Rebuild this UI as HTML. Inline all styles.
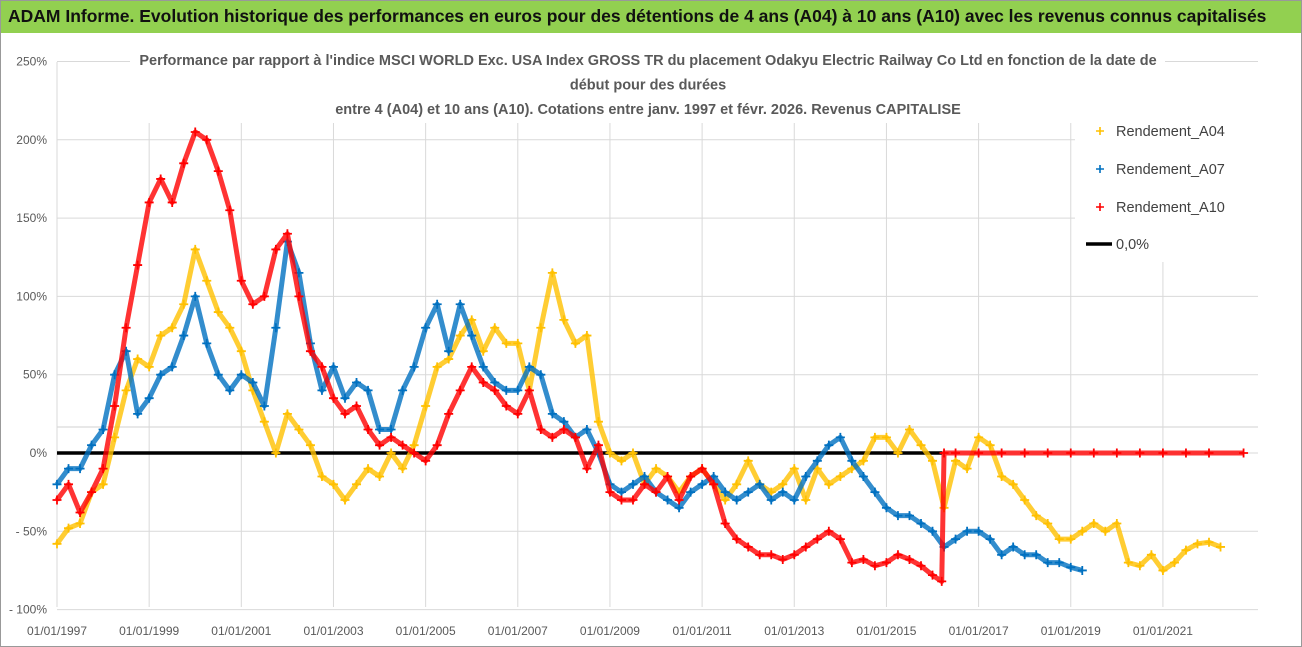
<!DOCTYPE html>
<html><head><meta charset="utf-8"><style>
body{margin:0;width:1302px;height:647px;background:#fff;overflow:hidden;font-family:"Liberation Sans",sans-serif}
#hdr{position:absolute;left:0;top:0;width:1302px;height:33px;background:#92d050;font-weight:bold;font-size:17.5px;line-height:33px;padding-left:8px;box-sizing:border-box;color:#111;white-space:nowrap}
svg{position:absolute;left:0;top:0}
</style></head><body>
<div id="hdr">ADAM Informe. Evolution historique des performances en euros pour des détentions de 4 ans (A04) à 10 ans (A10) avec les revenus connus capitalisés</div>
<svg id="chart" width="1302" height="647"></svg>
<script>
const yTicks=[250,200,150,100,50,0,-50,-100];
const yTickLabels=["250%","200%","150%","100%","50%","0%","- 50%","- 100%"];
const xTickYears=[1997,1999,2001,2003,2005,2007,2009,2011,2013,2015,2017,2019,2021];
const xTickLabels=["01/01/1997","01/01/1999","01/01/2001","01/01/2003","01/01/2005","01/01/2007","01/01/2009","01/01/2011","01/01/2013","01/01/2015","01/01/2017","01/01/2019","01/01/2021"];
const a04Dates=[1997,1997.25,1997.5,1997.75,1998,1998.25,1998.5,1998.75,1999,1999.25,1999.5,1999.75,2000,2000.25,2000.5,2000.75,2001,2001.25,2001.5,2001.75,2002,2002.25,2002.5,2002.75,2003,2003.25,2003.5,2003.75,2004,2004.25,2004.5,2004.75,2005,2005.25,2005.5,2005.75,2006,2006.25,2006.5,2006.75,2007,2007.25,2007.5,2007.75,2008,2008.25,2008.5,2008.75,2009,2009.25,2009.5,2009.75,2010,2010.25,2010.5,2010.75,2011,2011.25,2011.5,2011.75,2012,2012.25,2012.5,2012.75,2013,2013.25,2013.5,2013.75,2014,2014.25,2014.5,2014.75,2015,2015.25,2015.5,2015.75,2016,2016.25,2016.5,2016.75,2017,2017.25,2017.5,2017.75,2018,2018.25,2018.5,2018.75,2019,2019.25,2019.5,2019.75,2020,2020.25,2020.5,2020.75,2021,2021.25,2021.5,2021.75,2022,2022.25];
const a04Values=[-58,-48,-45,-25,-20,10,40,60,55,75,80,95,130,110,90,80,65,40,20,0,25,15,5,-15,-20,-30,-20,-10,-15,0,-10,5,30,55,60,75,85,65,80,70,70,40,80,115,85,70,75,20,0,-5,0,-20,-10,-15,-25,-15,-10,-20,-30,-20,-5,-20,-25,-20,-10,-30,-10,-20,-15,-10,-5,10,10,0,15,5,-5,-35,-5,-10,10,5,-15,-20,-30,-40,-45,-55,-55,-50,-45,-50,-45,-70,-72,-65,-75,-70,-62,-58,-57,-60];
const a07Dates=a04Dates.slice(0,90);
const a07Values=[-20,-10,-10,5,15,50,65,25,35,50,55,75,100,70,50,40,50,45,30,80,135,115,70,40,55,35,45,40,15,15,40,55,80,95,65,95,75,55,45,40,40,55,50,25,20,10,15,0,-20,-25,-20,-15,-25,-30,-35,-25,-20,-15,-25,-30,-25,-20,-30,-25,-30,-15,-5,5,10,-5,-15,-25,-35,-40,-40,-45,-50,-60,-55,-50,-50,-55,-65,-60,-65,-65,-70,-70,-73,-75];
const a10Dates=a04Dates.slice(0,77).concat([2016.2,2016.25,2016.5,2017,2017.5,2018,2018.5,2019,2019.5,2020,2020.5,2021,2021.5,2022,2022.75]);
const a10Values=[-30,-20,-38,-25,-10,30,80,120,160,175,160,185,205,200,180,155,110,95,100,130,140,100,65,55,35,25,30,15,5,10,5,0,-5,5,25,40,55,45,40,30,25,40,15,10,15,10,-10,5,-25,-30,-30,-20,-25,-15,-30,-15,-10,-20,-45,-55,-60,-65,-65,-68,-65,-60,-55,-50,-55,-70,-68,-72,-70,-65,-68,-72,-78,-82,0,0,0,0,0,0,0,0,0,0,0,0,0,0];

const NS="http://www.w3.org/2000/svg",svg=document.getElementById('chart');
const X=y=>57+(y-1997)*46.08, Y=v=>453-v*1.566;
function mk(t,a,p){const e=document.createElementNS(NS,t);for(const k in a)e.setAttribute(k,a[k]);(p||svg).appendChild(e);return e;}
mk('rect',{x:0.5,y:0.5,width:1301,height:646,fill:'none',stroke:'#999'});
yTicks.forEach((v,i)=>{
 const l=mk('line',{x1:57,x2:1258,y1:Y(v),y2:Y(v),stroke:'#d9d9d9','stroke-width':1});
 
 
 const t=mk('text',{x:47,y:Y(v)+4,'text-anchor':'end','font-size':12,fill:'#595959'});
 t.textContent=yTickLabels[i];
 
 
});
mk('line',{x1:57,x2:1258,y1:427,y2:427,stroke:'#d0d0d0'});
xTickYears.forEach((yr,i)=>{
 const l=mk('line',{x1:X(yr),x2:X(yr),y1:123,y2:607,stroke:'#d9d9d9'});
 
 
 const t=mk('text',{x:X(yr),y:635,'text-anchor':'middle','font-size':12,fill:'#595959'});
 t.textContent=xTickLabels[i];
 
 
});
mk('line',{x1:57,x2:57,y1:62,y2:607,stroke:'#d9d9d9'});
mk('rect',{x:130,y:44,width:1035,height:78,fill:'#fff'});
["Performance par rapport à l'indice MSCI WORLD Exc. USA Index GROSS TR  du placement Odakyu Electric Railway Co Ltd en fonction de la date de","début pour des durées","entre 4 (A04) et 10 ans (A10).  Cotations entre janv. 1997 et févr. 2026. Revenus CAPITALISE"].forEach((s,i)=>{
 const t=mk('text',{x:648,y:65+i*24.5,'text-anchor':'middle','font-size':14.5,'font-weight':'bold',fill:'#595959'});
 t.textContent=s;
 
 
});
const z=mk('line',{x1:57,x2:942,y1:Y(0),y2:Y(0),stroke:'#000','stroke-width':3.5});


function series(dates,vals,col,name){
 const g=mk('g',{});
 
 
 const pts=dates.map((d,i)=>X(d)+','+Y(vals[i])).join(' ');
 mk('polyline',{points:pts,fill:'none',stroke:col,'stroke-width':5,'stroke-linejoin':'round','stroke-opacity':0.8},g);
 dates.forEach((d,i)=>{
  const x=X(d),y=Y(vals[i]);
  const p=mk('path',{d:`M${x-4.5} ${y}h9M${x} ${y-4.5}v9`,stroke:col,'stroke-width':1.8},g);
  
  
 });
}
series(a04Dates,a04Values,'#ffc000','series-a04');
series(a07Dates,a07Values,'#0070c0','series-a07');
series(a10Dates,a10Values,'#ff0000','series-a10');
const lg=mk('g',{});


mk('rect',{x:1075,y:110,width:215,height:152,fill:'#fff'},lg);
[['Rendement_A04','#ffc000'],['Rendement_A07','#0070c0'],['Rendement_A10','#ff0000']].forEach((e,i)=>{
 const y=131+i*38;
 mk('path',{d:`M1096 ${y}h8M1100 ${y-4}v8`,stroke:e[1],'stroke-width':1.6},lg);
 const t=mk('text',{x:1116,y:y+5,'font-size':14.5,fill:'#404040'},lg);
 t.textContent=e[0];
 
 
});
mk('line',{x1:1086,x2:1112,y1:244,y2:244,stroke:'#000','stroke-width':3.5},lg);
const t0=mk('text',{x:1116,y:249,'font-size':14.5,fill:'#404040'},lg);
t0.textContent='0,0%';


</script>
</body></html>
